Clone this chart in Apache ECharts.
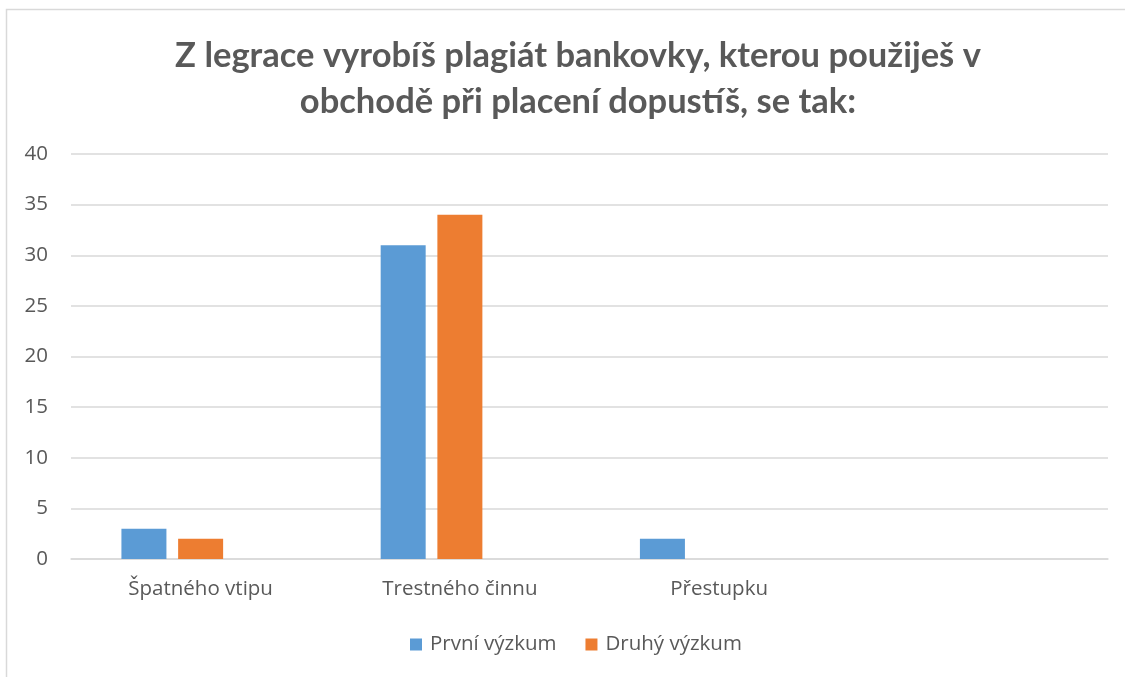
<!DOCTYPE html>
<html>
<head>
<meta charset="utf-8">
<script src="https://cdn.jsdelivr.net/npm/echarts@6/dist/echarts.min.js"></script>
<style>
html, body { margin: 0; padding: 0; background: #fff; }
#main { width: 1125px; height: 677px; }
</style>
</head>
<body>
<div id="main"></div>
<script>
var titleText = 'Z legrace vyrobíš plagiát bankovky, kterou použiješ v\nobchodě při placení dopustíš, se tak:';
var categories = ['Špatného vtipu', 'Trestného činnu', 'Přestupku', ''];
var seriesNames = ['První výzkum', 'Druhý výzkum'];
var prvni = [3, 31, 2, null];
var druhy = [2, 34, null, null];
var treti = [null, null, null, null]; // third (empty) series, keeps the bar slots as in the original
var yTicks = { min: 0, max: 40, interval: 5 };

var myChart = echarts.init(document.getElementById('main'));
var textColor = '#595959';
var lineColor = '#d9d9d9';
var titleFont = 'Lato';
var font = 'Open Sans';

var option = {
	animation: false,
	title: {
		text: titleText,
		left: 573,
		top: 28,
		textAlign: 'center',
		textStyle: {
			fontFamily: titleFont,
			fontSize: 34.5,
			fontWeight: 'bold',
			color: textColor,
			lineHeight: 46
		}
	},
	graphic: [{
		type: 'rect',
		shape: { x: 6.5, y: 9.5, width: 1130, height: 700 },
		style: { fill: 'none', stroke: lineColor, lineWidth: 1.5 },
		silent: true
	}],
	legend: {
		data: seriesNames,
		bottom: 17,
		left: 405,
		itemWidth: 12,
		itemHeight: 12,
		itemGap: 29,
		icon: 'rect',
		textStyle: { fontFamily: font, fontSize: 20.5, color: textColor, padding: [0, 0, 0, 3] }
	},
	grid: { left: 71, right: 17, top: 154, bottom: 118 },
	xAxis: {
		type: 'category',
		data: categories,
		axisLine: { lineStyle: { color: lineColor, width: 1.5 } },
		axisTick: { show: false },
		axisLabel: { fontFamily: font, fontSize: 20.5, color: textColor, margin: 20 }
	},
	yAxis: {
		type: 'value',
		min: yTicks.min,
		max: yTicks.max,
		interval: yTicks.interval,
		axisLine: { show: false },
		axisTick: { show: false },
		splitLine: { lineStyle: { color: lineColor, width: 1.5 } },
		axisLabel: { fontFamily: font, fontSize: 20.5, color: textColor, margin: 23 }
	},
	series: [{
		name: seriesNames[0],
		type: 'bar',
		data: prvni,
		barWidth: 45,
		barGap: '26%',
		itemStyle: { color: '#5b9bd5' }
	}, {
		name: seriesNames[1],
		type: 'bar',
		data: druhy,
		barWidth: 45,
		barGap: '26%',
		itemStyle: { color: '#ed7d31' }
	}, {
		name: 'treti',
		type: 'bar',
		data: treti,
		barWidth: 45,
		barGap: '26%',
		itemStyle: { color: '#a5a5a5' }
	}]
};
myChart.setOption(option);
</script>
</body>
</html>
